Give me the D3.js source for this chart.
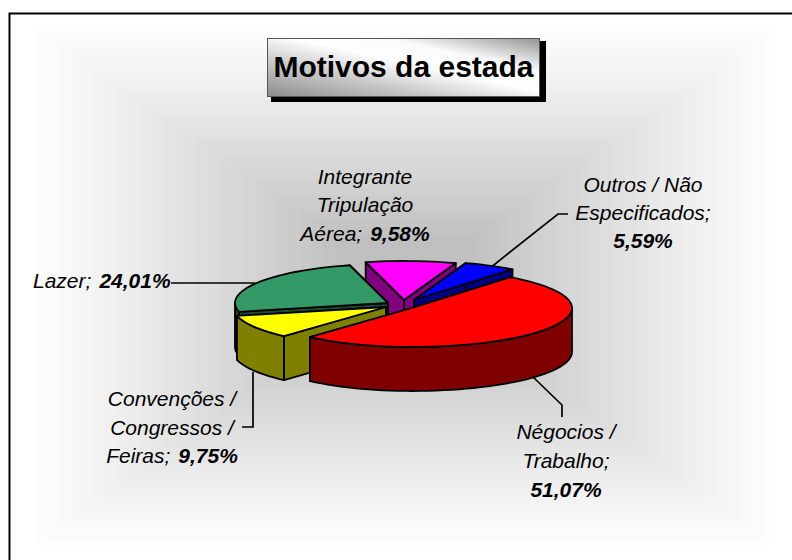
<!DOCTYPE html>
<html lang="pt">
<head>
<meta charset="UTF-8">
<title>Motivos da estada</title>
<script src="https://cdn.jsdelivr.net/npm/d3@7"></script>
<style>
    html, body { margin: 0; padding: 0; background: #fff; }
    svg { display: block; }
    text { font-family: "Liberation Sans", Arial, sans-serif; fill: #000; }
</style>
</head>
<body>
<script>
    // dados
    var chartTitle = 'Motivos da estada'
    var categories = ['Négocios / Trabalho', 'Convenções / Congressos / Feiras', 'Lazer', 'Integrante Tripulação Aérea', 'Outros / Não Especificados']
    var values = [51.07, 9.75, 24.01, 9.58, 5.59]
    var labelLines = [
        [['Négocios /', ''], ['Trabalho;', ''], ['', '51,07%']],
        [['Convenções /', ''], ['Congressos /', ''], ['Feiras;', '9,75%']],
        [['Lazer;', '24,01%']],
        [['Integrante', ''], ['Tripulação', ''], ['Aérea;', '9,58%']],
        [['Outros / Não', ''], ['Especificados;', ''], ['', '5,59%']]
    ]

    var width = 792, height = 560
    var topColors = ['#ff0000', '#ffff00', '#339966', '#ff00ff', '#0000ff']
    var sideColors = ['#800000', '#808000', '#1a4d33', '#800080', '#000080']
    // deslocamento de cada fatia a partir do centro
    var sliceShift = [[12, 3], [-14, 2], [-12, -2], [4, -5], [14, -5]]
    var drawOrder = [3, 4, 2, 1, 0]

    // pizza em perspectiva
    var cx = 400, cy = 305, rxRight = 160, rxLeft = 153, ry = 39, depth = 44
    var startDeg = 38
    // pequena correcao de perspectiva no fundo da pizza
    var warpDeg = d3.scaleLinear().domain([38, 257, 343.4, 378, 398]).range([38, 257, 345.5, 379, 398])

    var svg = d3.select('body').append('svg').attr('width', width).attr('height', height)
    var defs = svg.append('defs')

    // fundo: degradê retangular do centro para as bordas
    var bgBox = {x0: 35, y0: 28, x1: 775, y1: 545, cx: 405, cy: 283}
    var bgColor = d3.scaleLinear().domain([0, 1]).range(['#fdfdfd', '#c0c0c0'])
    var bgSteps = d3.range(0, 1, 1 / 32)
    defs.append('filter').attr('id', 'soft').append('feGaussianBlur').attr('stdDeviation', 1.2)
    svg.append('g').attr('filter', 'url(#soft)')
        .selectAll('rect').data(bgSteps).enter().append('rect')
        .attr('x', t => bgBox.x0 + (bgBox.cx - bgBox.x0) * t)
        .attr('y', t => bgBox.y0 + (bgBox.cy - bgBox.y0) * t)
        .attr('width', t => (bgBox.x1 - bgBox.x0) * (1 - t))
        .attr('height', t => (bgBox.y1 - bgBox.y0) * (1 - t))
        .attr('fill', t => bgColor(Math.min(1, Math.pow(t, 1.1) * 1.25)))

    // moldura: só topo e esquerda
    svg.append('path').attr('d', `M9.5,560V13.5H792`).attr('fill', 'none').attr('stroke', '#000').attr('stroke-width', 2)

    // titulo
    var grad = defs.append('linearGradient').attr('id', 'titleFill')
        .attr('x1', 0).attr('y1', 1).attr('x2', 1).attr('y2', 0)
    grad.append('stop').attr('offset', '0').attr('stop-color', '#8c8c8c')
    grad.append('stop').attr('offset', '0.3').attr('stop-color', '#c8c8c8')
    grad.append('stop').attr('offset', '0.55').attr('stop-color', '#ffffff')
    grad.append('stop').attr('offset', '0.72').attr('stop-color', '#fafafa')
    grad.append('stop').attr('offset', '1').attr('stop-color', '#939393')
    svg.append('rect').attr('x', 271).attr('y', 41).attr('width', 275).attr('height', 61).attr('fill', '#000')
    svg.append('rect').attr('x', 267.5).attr('y', 38.5).attr('width', 272).attr('height', 58)
        .attr('fill', 'url(#titleFill)').attr('stroke', '#555').attr('stroke-width', 1)
    svg.append('text').attr('x', 403.5).attr('y', 77).attr('text-anchor', 'middle')
        .attr('font-size', 30).attr('font-weight', 'bold').text(chartTitle)

    // linhas de chamada
    var leaders = [
        [[533, 377], [562, 405], [562, 417]],
        [[253, 372], [253, 427], [242, 427]],
        [[171, 283], [255, 283]],
        [],
        [[490, 268], [558, 214], [568, 214]]
    ]
    var leaderLine = d3.line()
    svg.append('g').selectAll('path').data(leaders).enter().append('path')
        .attr('d', d => d.length ? leaderLine(d) : null)
        .attr('fill', 'none').attr('stroke', '#000').attr('stroke-width', 1.7)

    // fatias
    var pie = d3.pie().sort(null)
        .startAngle(startDeg * Math.PI / 180)
        .endAngle((startDeg + 360) * Math.PI / 180)
    var arcs = pie(values).map(d => {
        d.startAngle = warpDeg(d.startAngle * 180 / Math.PI) * Math.PI / 180
        d.endAngle = warpDeg(d.endAngle * 180 / Math.PI) * Math.PI / 180
        return d
    })

    function project(o, a, drop) {
        var s = Math.sin(a)
        return [o[0] + (s > 0 ? rxRight : rxLeft) * s, o[1] - ry * Math.cos(a) + (drop || 0)]
    }
    function sliceOrigin(i) {
        return [cx + sliceShift[i][0], cy + sliceShift[i][1]]
    }
    function arcPoints(o, a0, a1, drop) {
        var n = Math.max(2, Math.ceil((a1 - a0) / 0.05))
        return d3.range(n + 1).map(k => project(o, a0 + (a1 - a0) * k / n, drop))
    }
    var polyLine = d3.line()
    var closedPath = pts => polyLine(pts) + 'Z'

    var pieG = svg.append('g').attr('stroke', '#000').attr('stroke-width', 1.8).attr('stroke-linejoin', 'round')
    drawOrder.forEach(i => {
        var d = arcs[i], o = sliceOrigin(i)
        var g = pieG.append('g')
        var base = [o[0], o[1] + depth]
        // paredes de corte
        ;[d.endAngle, d.startAngle].forEach(a => {
            var p = project(o, a), q = project(o, a, depth)
            g.append('path').attr('fill', sideColors[i]).attr('d', closedPath([o, p, q, base]))
        })
        // parede externa (so a parte da frente)
        ;[0, 2 * Math.PI].forEach(w => {
            var a0 = Math.max(d.startAngle, Math.PI / 2 + w), a1 = Math.min(d.endAngle, 3 * Math.PI / 2 + w)
            if (a1 > a0) {
                var pts = arcPoints(o, a0, a1, 0).concat(arcPoints(o, a0, a1, depth).reverse())
                g.append('path').attr('fill', sideColors[i]).attr('d', closedPath(pts))
            }
        })
        // topo
        g.append('path').attr('fill', topColors[i])
            .attr('d', closedPath([o].concat(arcPoints(o, d.startAngle, d.endAngle, 0))))
    })

    // rotulos
    var labelPos = [
        [566, 438.5, 'middle', 29],
        [172, 406, 'middle', 28.5],
        [33, 288, 'start', 0],
        [365, 183.5, 'middle', 28.5],
        [643, 192, 'middle', 28]
    ]
    labelLines.forEach((lines, i) => {
        var t = svg.append('text').attr('font-size', 21).attr('font-style', 'italic')
        lines.forEach((l, k) => {
            var ts = t.append('tspan').attr('x', labelPos[i][0]).attr('y', labelPos[i][1] + k * labelPos[i][3])
                .attr('text-anchor', labelPos[i][2])
            ts.append('tspan').text(l[0])
            if (l[1]) ts.append('tspan').attr('font-weight', 'bold').attr('dx', l[0] ? 8 : 0).text(l[1])
        })
    })
</script>
</body>
</html>
